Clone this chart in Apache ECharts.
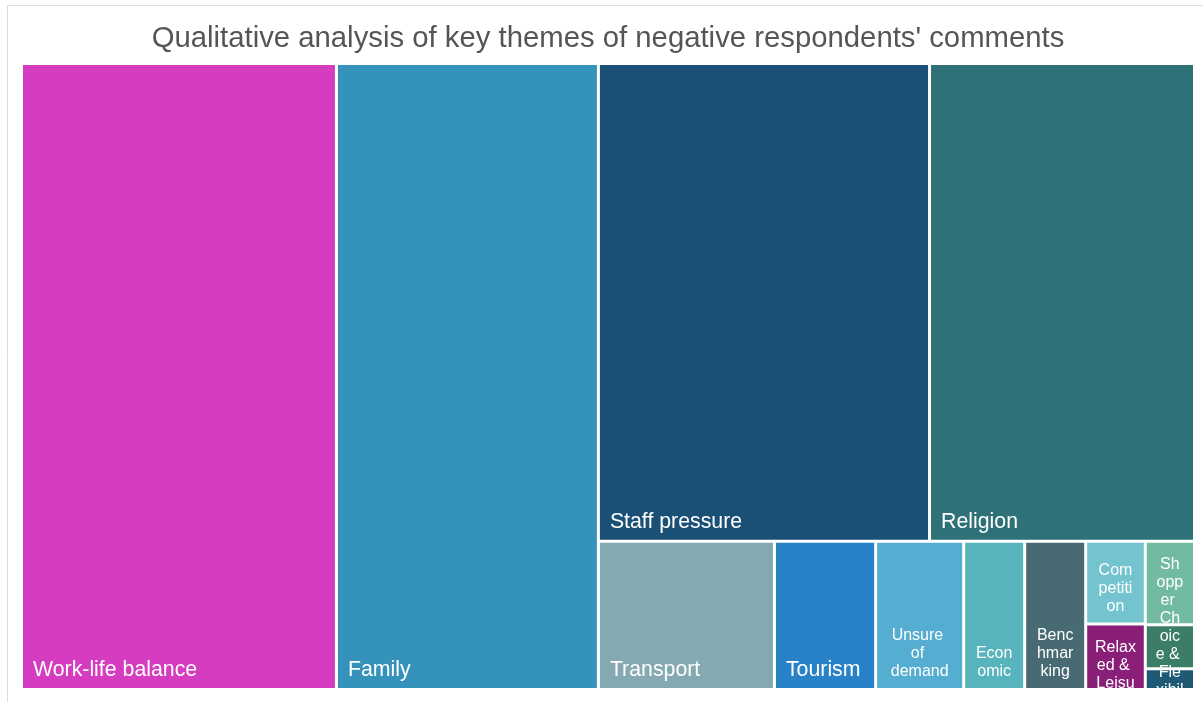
<!DOCTYPE html>
<html>
<head>
<meta charset="utf-8">
<script src="https://cdn.jsdelivr.net/npm/echarts@6/dist/echarts.min.js"></script>
<style>
html,body{margin:0;padding:0;background:#fff;}
#chart{width:1203px;height:702px;}
</style>
</head>
<body>
<div id="chart"></div>
<script>
var titleText = "Qualitative analysis of key themes of negative respondents' comments";
var categories = ["Work-life balance","Family","Staff pressure","Religion","Transport","Tourism","Unsure of demand","Economic","Benchmarking","Competition","Relaxed & Leisure","Shopper Choice & Flexibility","Other A","Other B"];
var values = [192,159.7,154.1,123.3,25.4,14.6,12.7,8.8,8.8,4.8,3.8,4.0,2.1,1.0];
var colors = ["#D63CC0","#3593BB","#1A4F76","#2E7277","#85A9B2","#2882C7","#55ADD1","#57B4BD","#476A73","#73C4CF","#8A1F78","#72BBA0","#3B7D65","#1E5A73"];
// label style kinds: big = bottom-left, small = centered at bottom, top = centered from top (overflowing), none = hidden
var labelKinds = ["big","big","big","big","big","big","small","small","small","small","top","top","none","none"];
// text wrapping width for the small labels (px)
var labelWrapWidth = [0,0,0,0,0,0,63,41,40,38,42.2,28.465,0,0];
// tiling groups (indices into the arrays above) used to reproduce the tile arrangement
var tiling = [[0, 1], [[2, 3], [4, [5, [6, [7, [[8, [9, 10]], [11, 12, 13]]]]]]]];

var FONT = "'Liberation Sans', Arial, sans-serif";
var BORDER = 1.5;

function makeLabel(kind, sp) {
  if (kind === 'big') {
    return {show:true, position:'insideBottomLeft', distance:0, padding:[0,0,7,10], fontSize:21.3, color:'#fff', fontFamily:FONT};
  } else if (kind === 'small') {
    return {show:true, position:'insideBottom', distance:0, padding:[0,sp,7,sp], align:'center', fontSize:16, lineHeight:18, color:'#fff', fontFamily:FONT, overflow:'break'};
  } else if (kind === 'top') {
    return {show:true, position:'insideTop', distance:0, padding:[13,sp,-300,sp], align:'center', fontSize:16, lineHeight:18, color:'#fff', fontFamily:FONT, overflow:'break'};
  }
  return {show:false};
}

function buildData(contentWidths) {
  function build(node) {
    if (Array.isArray(node)) {
      return {name:'', children:node.map(build), itemStyle:{borderWidth:0, gapWidth:0, borderColor:'#fff'}};
    }
    var sp = 9;
    var cw = contentWidths[categories[node]];
    if (cw && labelWrapWidth[node]) sp = Math.max((cw - labelWrapWidth[node]) / 2, 0);
    return {name:categories[node], value:values[node],
      itemStyle:{color:colors[node], borderWidth:BORDER, borderColor:'#fff', gapWidth:0},
      label:makeLabel(labelKinds[node], sp)};
  }
  return tiling.map(build);
}

var chart = echarts.init(document.getElementById('chart'), null, {renderer:'canvas'});
function makeOption(data) {
  return {
    animation:false,
    title:{text:titleText, left:603, textAlign:'center', top:19, textStyle:{fontSize:29.3, fontWeight:'normal', color:'#555', fontFamily:FONT}},
    graphic:[{type:'rect', shape:{x:7.5,y:5.5,width:1300,height:800}, style:{fill:'none', stroke:'#dcdcdc', lineWidth:1}, silent:true, z:-10}],
    series:[{
      type:'treemap',
      left:21.5, top:63.5, width:1173, height:626,
      roam:false, nodeClick:false,
      breadcrumb:{show:false},
      squareRatio:1.3,
      sort:false,
      label:{show:true, color:'#fff', fontFamily:FONT},
      upperLabel:{show:false},
      itemStyle:{borderWidth:0, gapWidth:0, borderColor:'#fff'},
      data:data
    }]
  };
}
chart.setOption(makeOption(buildData({})));
// second pass: read the tile widths computed by the treemap layout to set each label's wrapping width
var widths = {};
try {
  chart.getModel().getSeriesByIndex(0).getData().tree.eachNode(function (n) {
    if (!n.children || !n.children.length) {
      var lay = n.getLayout();
      if (lay && n.name) widths[n.name] = lay.width - 2 * BORDER;
    }
  });
} catch (e) {}
chart.setOption(makeOption(buildData(widths)), true);
</script>
</body>
</html>
